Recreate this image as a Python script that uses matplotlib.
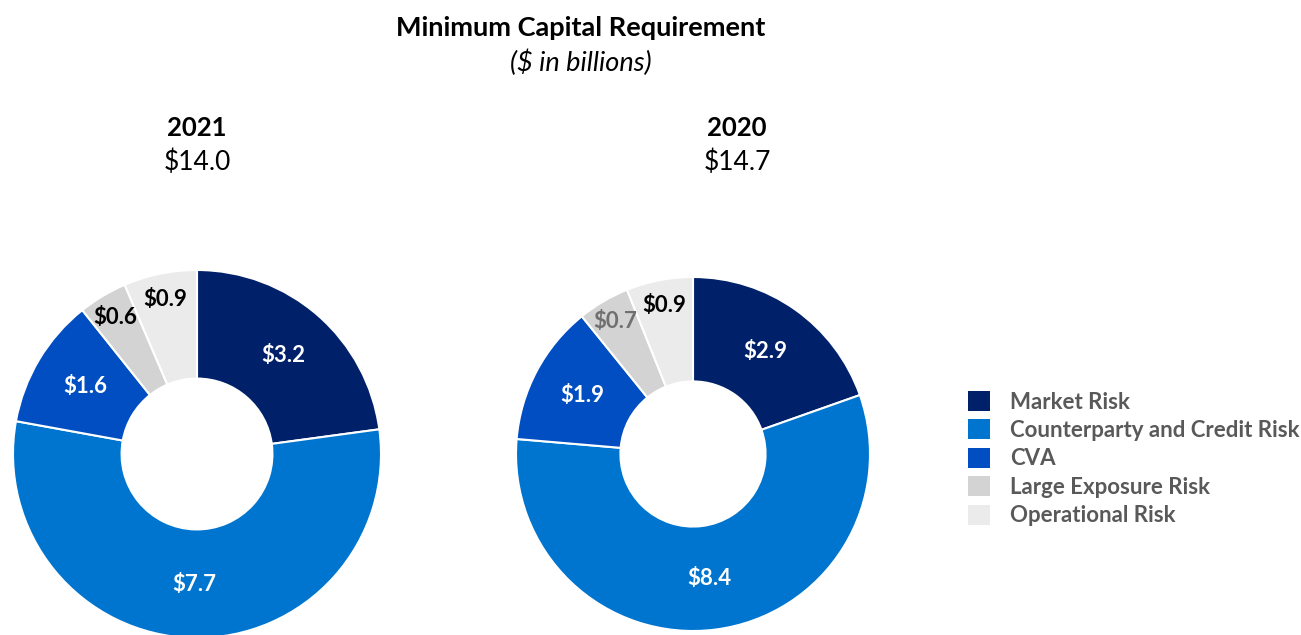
import numpy as np
import matplotlib.pyplot as plt
from matplotlib.patches import Patch

plt.rcParams['font.family'] = ['Lato', 'DejaVu Sans']

# ---- data ($ in billions) ----
categories = ['Market Risk', 'Counterparty and Credit Risk', 'CVA',
              'Large Exposure Risk', 'Operational Risk']
years = ['2021', '2020']
totals = ['$14.0', '$14.7']
values_2021 = [3.2, 7.7, 1.6, 0.6, 0.9]
values_2020 = [2.9, 8.4, 1.9, 0.7, 0.9]

# ---- style ----
colors = ['#002169', '#0075CF', '#004EC2', '#D3D3D3', '#EBEBEB']
label_r = [0.71, 0.71, 0.71, 0.865, 0.855]
label_colors = {
    '2021': ['white', 'white', 'white', 'black', 'black'],
    '2020': ['white', 'white', 'white', '#707070', 'black'],
}

W, H = 1301, 635
fig = plt.figure(figsize=(W / 100, H / 100), dpi=100)


def px_axes(cx, cy, r):
    # axes box centred on (cx, cy) pixel position (from top-left)
    return fig.add_axes([(cx - r) / W, (H - cy - r) / H, 2 * r / W, 2 * r / H])


def donut(ax, vals, year):
    wedges, _ = ax.pie(vals, colors=colors, startangle=90, counterclock=False,
                       radius=1, wedgeprops=dict(width=0.59, edgecolor='white',
                                                 linewidth=1.5))
    total = sum(vals)
    start = 90.0
    for v, rr, c in zip(vals, label_r, label_colors[year]):
        mid = np.deg2rad(start - v / total * 180)
        start -= v / total * 360
        ax.text(rr * np.cos(mid), rr * np.sin(mid), f'${v:.1f}', ha='center',
                va='center', fontsize=16, fontweight='bold', color=c)
    ax.set_xlim(-1, 1)
    ax.set_ylim(-1, 1)
    ax.set_aspect('equal')
    ax.axis('off')


ax1 = px_axes(197, 454, 184)
donut(ax1, values_2021, '2021')
ax2 = px_axes(693, 454, 177)
donut(ax2, values_2020, '2020')

# titles
fig.text(581 / W, 1 - 28 / H, 'Minimum Capital Requirement', ha='center',
         va='center', fontsize=19.5, fontweight='bold')
fig.text(581 / W, 1 - 63 / H, '($ in billions)', ha='center', va='center',
         fontsize=19.5, style='italic')
for x, yr, tot in zip([197, 737], years, totals):
    fig.text(x / W, 1 - 128 / H, yr, ha='center', va='center', fontsize=18.5,
             fontweight='bold')
    fig.text(x / W, 1 - 162 / H, tot, ha='center', va='center', fontsize=19)

# legend
handles = [Patch(facecolor=c, edgecolor='none') for c in colors]
leg = fig.legend(handles, categories, loc='upper left',
                 bbox_to_anchor=(968 / W, 1 - 391 / H), frameon=False,
                 handlelength=1.0, handleheight=1.0,
                 handletextpad=0.9, labelspacing=0.31, borderaxespad=0,
                 borderpad=0, labelcolor='#595959',
                 prop=dict(weight='bold', size=16))

fig.savefig('out.png', dpi=100)
